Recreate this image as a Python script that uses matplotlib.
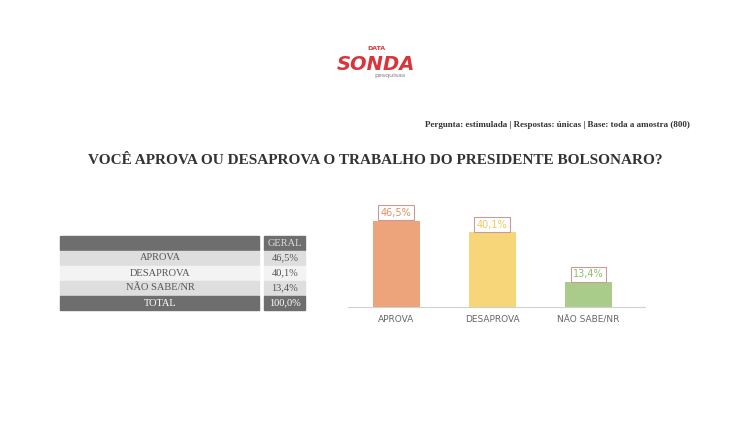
import matplotlib.pyplot as plt
from matplotlib.patches import Rectangle

categories = ["APROVA", "DESAPROVA", "NÃO SABE/NR"]
values = [46.5, 40.1, 13.4]
labels = ["46,5%", "40,1%", "13,4%"]
total_label = "100,0%"
colors = ["#eda47a", "#f7d67a", "#a9cc8a"]
label_colors = ["#e0905e", "#f0c95a", "#8fbf6a"]

W, H = 750, 447
fig = plt.figure(figsize=(7.5, 4.47), dpi=100)
fig.patch.set_facecolor("white")

def fx(x):
    return x / W

def fy(y):
    return 1 - y / H

# logo
fig.text(fx(376), fy(50), "DATA", color="#d9343a", fontsize=4.5, ha="center", fontweight="bold")
fig.text(fx(376), fy(64), "SONDA", color="#d9343a", fontsize=14, ha="center", va="center",
         fontweight="bold", fontstyle="italic")
fig.text(fx(390), fy(77), "pesquisas", color="#777777", fontsize=4.5, ha="center")

fig.text(fx(690), fy(125), "Pergunta: estimulada | Respostas: únicas | Base: toda a amostra (800)",
         fontsize=6.5, ha="right", va="center", family="Liberation Serif", fontweight="bold", color="#333333")
fig.text(fx(375), fy(161), "VOCÊ APROVA OU DESAPROVA O TRABALHO DO PRESIDENTE BOLSONARO?",
         fontsize=11, ha="center", va="center", family="Liberation Serif", fontweight="bold", color="#333333")

# table
rows = [("", "GERAL", "#6e6e6e", "#6e6e6e", "white")]
row_bg = ["#dedede", "#f3f3f3", "#dedede"]
for c, l, bg in zip(categories, labels, row_bg):
    rows.append((c, l, bg, bg, "#555555"))
rows.append(("TOTAL", total_label, "#6e6e6e", "#6e6e6e", "white"))
y0 = 236
for i, (lab, val, bg1, bg2, tc) in enumerate(rows):
    top = y0 + i * 15
    fig.add_artist(Rectangle((fx(60), fy(top + 14)), fx(199), 14 / H, color=bg1, transform=fig.transFigure))
    fig.add_artist(Rectangle((fx(264), fy(top + 14)), fx(41), 14 / H, color=bg2, transform=fig.transFigure))
    hc = "#dddddd" if i == 0 else tc
    fig.text(fx(160), fy(top + 7), lab, ha="center", va="center", fontsize=7.5,
             family="Liberation Serif", color=tc)
    fig.text(fx(285), fy(top + 7), val, ha="center", va="center", fontsize=7.5,
             family="Liberation Serif", color=hc)

# bar chart
ax = fig.add_axes([fx(348), fy(307), fx(297), 93 / H])
x = range(len(categories))
ax.bar(x, values, width=0.49, color=colors)
ax.set_xlim(-0.5, 2.59)
ax.set_ylim(0, 50)
for i, (v, l, lc) in enumerate(zip(values, labels, label_colors)):
    ax.text(i, v + 1.5, l, ha="center", va="bottom", fontsize=7, color=lc,
            bbox=dict(boxstyle="square,pad=0.25", fc="white", ec="#c89a9a", lw=0.8))
ax.set_xticks(list(x))
ax.set_xticklabels(categories, fontsize=6.5, color="#666666")
ax.tick_params(axis="x", length=0, pad=6)
ax.set_yticks([])
for s in ["top", "right", "left"]:
    ax.spines[s].set_visible(False)
ax.spines["bottom"].set_color("#d0d0d0")

fig.savefig("out.png", dpi=100)
